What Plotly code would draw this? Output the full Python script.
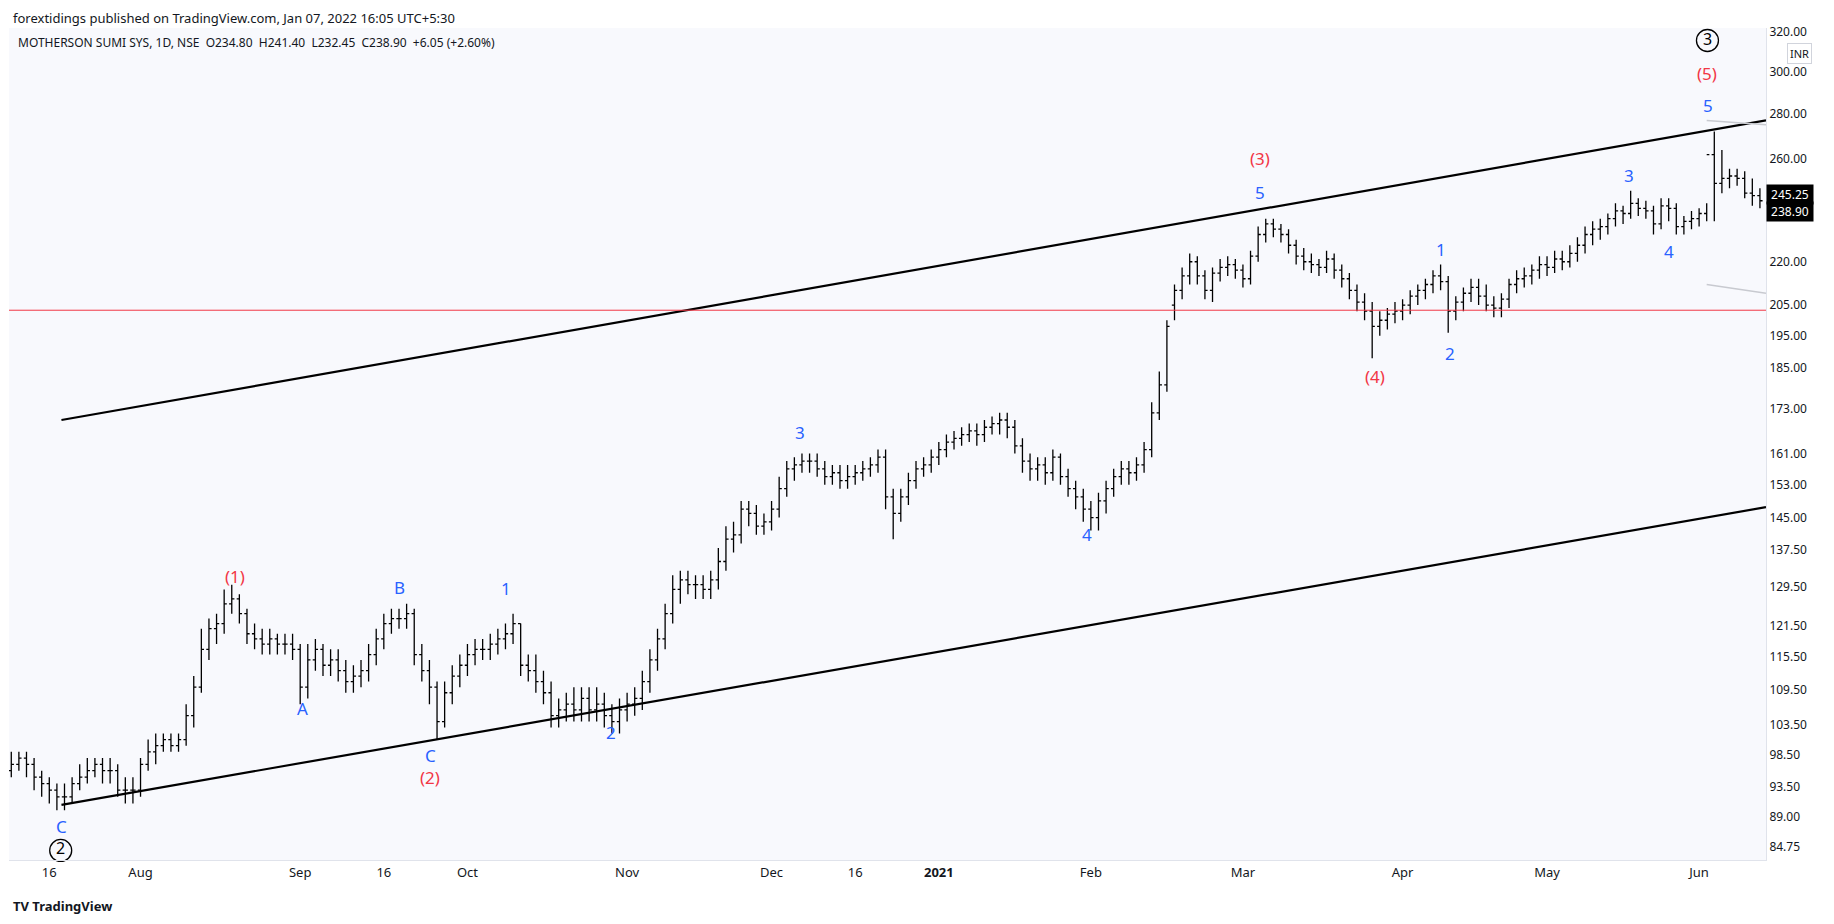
import math
import pandas as pd
import plotly.graph_objects as go

holidays = ["2020-10-02","2020-11-16","2020-11-30","2020-12-25","2021-01-26","2021-03-11",
            "2021-03-29","2021-04-02","2021-04-14","2021-04-21","2021-05-13"]
dates = [d for d in pd.bdate_range("2020-07-09", "2021-06-11") if d.strftime("%Y-%m-%d") not in holidays]

open_ = [96,97,98,97,95,94,93,92,92,94, 95,96,97,96,96,93,93,93,97,99, 100,101,100,101,105,110,117,121,122,126,
 127,124,120,119,118,119,118,118,117,110, 115,117,114,115,113,111,112,113,116,119, 122,123,123,124,116,113,110,104,109,112,
 114,116,117,117,118,119,120,122,114,113, 111,109,105,106,107,106,108,106,107,105, 104,106,107,108,111,115,119,124,129,131,
 130,130,129,131,135,140,141,147,146,143, 144,147,152,157,158,159,159,157,155,156, 154,155,156,157,158,160,150,146,150,154,
 157,158,160,162,164,165,166,167,166,168, 169,170,168,163,159,157,158,156,160,155, 152,150,147,145,149,152,155,157,156,158,
 162,172,180,205,210,215,220,215,210,216, 218,219,217,214,222,230,234,232,230,226, 222,220,219,218,221,217,214,210,206,203,
 198,200,202,203,205,208,210,212,215,213, 203,206,209,211,208,205,204,207,212,214, 215,217,219,218,221,220,223,226,230,232,
 233,236,239,238,242,240,239,234,241,240, 233,235,236,238,262,250,252,253,252,246, 245]
high = [99,99,99,98,96,95,94,94,95,97, 98,98,98,98,97,95,95,98,101,102, 102,102,102,107,112,121,123,124,129,130,
 128,125,122,121,121,120,120,120,118,118, 119,118,117,117,115,114,115,118,121,124, 125,125,126,125,118,115,111,111,114,116,
 118,119,119,120,121,122,124,122,116,116, 113,111,108,109,110,110,110,110,109,107, 108,109,110,113,117,121,126,132,133,133,
 132,132,133,138,143,144,149,149,148,146, 149,155,159,160,161,161,161,159,158,158, 158,158,159,160,162,162,152,152,156,159,
 160,162,164,166,167,168,169,169,170,171, 172,172,170,165,161,160,160,162,161,157, 154,152,149,151,154,157,159,159,160,164,
 175,184,200,212,218,223,222,217,218,221, 222,221,219,224,233,236,236,234,232,228, 225,223,221,224,223,219,216,212,209,206,
 203,204,206,207,210,212,214,217,219,215, 208,211,214,214,212,208,209,214,217,218, 219,222,222,224,224,226,229,233,235,236,
 238,242,241,247,244,243,241,244,244,242, 237,239,240,242,272,264,256,256,255,252, 248]
low = [95,96,95,93,92,91,90,90,91,93, 94,95,94,94,92,91,91,92,96,97, 99,99,99,100,103,109,115,118,120,124,
 122,118,117,116,116,116,116,115,107,108, 113,112,112,111,109,109,110,111,114,117, 120,121,121,114,111,107,101,103,107,110,
 112,114,115,115,116,117,118,112,111,109, 107,103,103,104,104,104,104,104,103,102, 102,104,105,106,109,113,117,122,126,128,
 127,127,127,129,133,137,139,143,141,141, 142,145,150,154,156,156,155,153,153,152, 152,153,154,155,156,147,140,144,148,152,
 155,156,158,160,162,163,164,163,164,166, 166,165,161,156,154,154,153,154,153,150, 147,144,142,142,146,150,153,153,154,156,
 160,170,178,200,207,212,212,207,206,213, 215,214,211,212,220,227,229,227,223,219, 217,216,215,216,214,211,207,203,200,188,
 195,197,199,200,202,205,207,209,210,196, 200,203,206,205,203,201,201,204,209,211, 212,214,215,216,217,218,220,223,226,228,
 230,233,234,236,237,236,230,232,235,230, 230,232,233,235,235,246,248,249,244,241, 240]
close = [97,98,97,95,94,93,92,92,94,95, 96,97,96,96,93,93,93,97,99,100, 101,100,101,105,110,117,121,122,126,127,
 124,120,119,118,119,118,118,117,110,115, 117,114,115,113,111,112,113,116,119,122, 123,123,124,116,113,110,104,109,112,114,
 116,117,117,118,119,120,122,114,113,111, 109,105,106,107,106,108,106,107,105,104, 106,107,108,111,115,119,124,129,131,130,
 130,129,131,135,140,141,147,146,143,144, 147,152,157,158,159,159,157,155,156,154, 155,156,157,158,160,150,146,150,154,157,
 158,160,162,164,165,166,167,166,168,169, 170,168,163,159,157,158,156,160,155,152, 150,147,145,149,152,155,157,156,158,162,
 172,180,198,210,215,220,215,210,216,218, 219,217,214,222,230,234,232,230,226,222, 220,219,218,221,217,214,210,206,203,198,
 200,202,203,205,208,210,212,215,213,203, 206,209,211,208,205,204,207,212,214,215, 217,219,218,221,220,223,226,230,232,233,
 236,239,238,242,240,239,234,241,240,233, 235,236,238,262,250,252,253,252,246,245, 243]

n = min(len(dates), len(close))
idx = list(range(n))

tick_dates = ["2020-07-16","2020-08-03","2020-09-01","2020-09-16","2020-10-01","2020-11-02","2020-12-01",
              "2020-12-16","2021-01-01","2021-02-01","2021-03-01","2021-04-01","2021-05-03","2021-06-01"]
tick_text = ["16","Aug","Sep","16","Oct","Nov","Dec","16","<b>2021</b>","Feb","Mar","Apr","May","Jun"]
tick_idx = [next(i for i, d in enumerate(dates[:n]) if d >= pd.Timestamp(t)) for t in tick_dates]

price_ticks = [84.75,89.0,93.5,98.5,103.5,109.5,115.5,121.5,129.5,137.5,145.0,153.0,161.0,173.0,185.0,195.0,205.0,220.0,260.0,280.0,300.0,320.0]

upper_x, upper_y = [6.6, 230.8], [170, 277]
lower_x, lower_y = [6.6, 230.8], [90.8, 147.5]
grey1_x, grey1_y = [223, 230.8], [277, 275]
grey2_x, grey2_y = [223, 230.8], [212, 209]
resistance = 203.3

red_labels = [("(1)",29.4,131.7),("(2)",55.1,95.0),("(3)",164.3,260.2),("(4)",179.4,182.4),("(5)",223.1,298.9)]
blue_labels = [("C",6.6,87.7),("A",38.3,106.2),("B",51.1,129.4),("C",55.2,98.4),("1",65.1,129.2),("2",78.9,102.1),
               ("3",103.8,166.6),("4",141.5,141.0),("5",164.3,246.3),("1",188,224.4),("2",189.2,189.5),
               ("3",212.8,253.4),("4",218.0,223.6),("5",223.2,283.9)]
circle_labels = [("2",6.5,84.3),("3",223.1,315.5)]

fig = go.Figure()
fig.add_trace(go.Ohlc(x=idx, open=open_[:n], high=high[:n], low=low[:n], close=close[:n],
                      increasing_line_color="#000000", decreasing_line_color="#000000",
                      line_width=1.3, tickwidth=0.35, showlegend=False, hoverinfo="skip"))
for xs, ys, c, w in [(upper_x, upper_y, "#000", 2.2), (lower_x, lower_y, "#000", 2.2),
                     (grey1_x, grey1_y, "#c8cad0", 1.5), (grey2_x, grey2_y, "#c8cad0", 1.5)]:
    fig.add_trace(go.Scatter(x=xs, y=ys, mode="lines", line=dict(color=c, width=w), showlegend=False, hoverinfo="skip"))
fig.add_trace(go.Scatter(x=[-1, n + 1], y=[resistance, resistance], mode="lines",
                         line=dict(color="#f23645", width=1), showlegend=False, hoverinfo="skip"))
fig.add_trace(go.Scatter(x=[c[1] for c in circle_labels], y=[c[2] for c in circle_labels],
                         mode="markers+text", text=[c[0] for c in circle_labels], textposition="middle center",
                         textfont=dict(color="#000", size=16),
                         marker=dict(symbol="circle-open", size=22, color="#000", line=dict(width=1.3)),
                         showlegend=False, hoverinfo="skip", cliponaxis=False))

ann = []
for t, x, y in red_labels:
    ann.append(dict(x=x, y=math.log10(y), text=t, showarrow=False, font=dict(color="#f23645", size=17)))
for t, x, y in blue_labels:
    ann.append(dict(x=x, y=math.log10(y), text=t, showarrow=False, font=dict(color="#2962ff", size=17)))
ann.append(dict(xref="paper", yref="y", x=1.0, y=math.log10(245.4), xanchor="left", text=" 245.25 ", showarrow=False,
                bgcolor="#000", font=dict(color="#fff", size=12)))
ann.append(dict(xref="paper", yref="y", x=1.0, y=math.log10(238.6), xanchor="left", text=" 238.90 ", showarrow=False,
                bgcolor="#000", font=dict(color="#fff", size=12)))
ann.append(dict(xref="paper", yref="paper", x=1.012, y=0.982, xanchor="left", text="INR", showarrow=False,
                bordercolor="#d1d4dc", borderwidth=1, borderpad=2, bgcolor="#fff", font=dict(color="#131722", size=11)))
ann.append(dict(xref="paper", yref="paper", x=0.001, y=1.012, xanchor="left", yanchor="middle", showarrow=False,
                text="forextidings published on TradingView.com, Jan 07, 2022 16:05 UTC+5:30",
                font=dict(color="#131722", size=13)))
ann.append(dict(xref="paper", yref="paper", x=0.004, y=0.982, xanchor="left", yanchor="middle", showarrow=False,
                text="MOTHERSON SUMI SYS, 1D, NSE  O234.80  H241.40  L232.45  C238.90  +6.05 (+2.60%)",
                font=dict(color="#131722", size=12)))
ann.append(dict(xref="paper", yref="paper", x=0.001, y=-0.055, xanchor="left", yanchor="middle", showarrow=False,
                text="<b>TV</b> <b>TradingView</b>", font=dict(color="#131722", size=13)))

fig.update_layout(
    width=1818, height=908, margin=dict(l=1, r=60, t=20, b=56),
    paper_bgcolor="#ffffff", plot_bgcolor="#f8f9fd",
    font=dict(family="Noto Sans, Roboto, sans-serif", color="#131722"),
    annotations=ann,
    xaxis=dict(range=[-0.3, 230.8], tickvals=tick_idx, ticktext=tick_text, showgrid=False, zeroline=False,
               rangeslider=dict(visible=False), showline=True, linecolor="#e0e3eb", ticks="", tickfont=dict(size=13)),
    yaxis=dict(type="log", side="right", range=[math.log10(83.0), math.log10(322)], tickvals=price_ticks,
               ticktext=[f"{v:.2f}" for v in price_ticks], showgrid=False, zeroline=False, showline=True,
               linecolor="#e0e3eb", mirror=False, ticks="", tickfont=dict(size=12)),
)
fig.write_html("out.html")
